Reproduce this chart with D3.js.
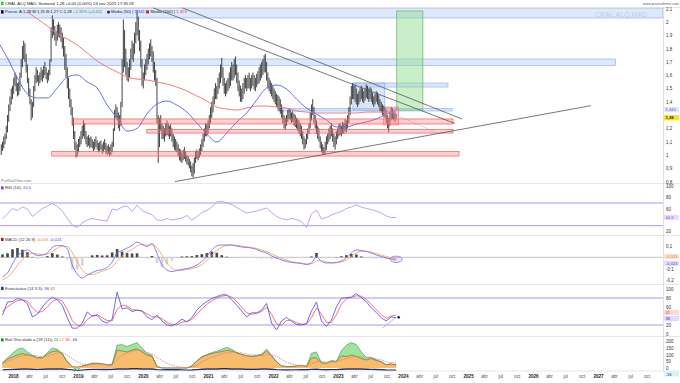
<!DOCTYPE html>
<html><head><meta charset="utf-8">
<script src="https://cdn.jsdelivr.net/npm/d3@7/dist/d3.min.js"></script>
<style>
html,body{margin:0;padding:0;background:#fff;overflow:hidden;}
svg{display:block;font-family:"Liberation Sans",Arial,sans-serif;}
</style></head><body>
<svg id="chart" width="680" height="383"></svg>
<script>
// ---------------- DATA ----------------
// weekly bars, last one = 24 nov 2023
const highs = [
1.08,1.10,1.14,1.16,1.22,1.30,1.38,1.44,
1.50,1.52,1.58,1.62,1.60,1.54,1.55,1.62,
1.72,1.82,1.86,1.84,1.76,1.68,1.58,1.50,
1.42,1.40,1.52,1.60,1.66,1.64,1.60,1.62,
1.66,1.64,1.67,1.70,1.66,1.62,1.64,1.72,
1.96,2.05,2.02,1.97,1.93,1.98,2.00,1.98,
1.96,1.92,1.88,1.82,1.76,1.66,1.58,1.50,
1.42,1.36,1.28,1.18,1.10,1.08,1.12,1.14,
1.18,1.22,1.26,1.24,1.18,1.14,1.15,1.13,
1.14,1.12,1.10,1.12,1.14,1.11,1.09,1.10,
1.11,1.08,1.10,1.12,1.09,1.07,1.08,1.06,
1.08,1.10,1.20,1.34,1.38,1.36,1.32,1.30,
1.40,1.72,2.02,1.94,1.80,1.70,1.66,1.72,
1.80,1.86,1.84,1.92,2.00,2.09,2.04,1.94,
1.86,1.72,1.62,1.68,1.72,1.76,1.80,1.84,
1.87,1.82,1.78,1.70,1.64,1.58,1.30,1.28,
1.30,1.24,1.22,1.20,1.24,1.26,1.24,1.22,
1.23,1.20,1.16,1.14,1.12,1.10,1.08,1.05,
1.04,1.02,1.04,1.06,1.03,1.00,0.99,0.97,
0.95,0.92,0.94,0.98,1.03,1.04,1.03,1.05,
1.08,1.12,1.16,1.20,1.24,1.23,1.26,1.30,
1.36,1.40,1.44,1.50,1.54,1.52,1.58,1.62,
1.68,1.73,1.66,1.58,1.54,1.56,1.58,1.62,
1.66,1.70,1.68,1.72,1.74,1.68,1.62,1.56,
1.52,1.50,1.54,1.58,1.60,1.58,1.60,1.62,
1.58,1.60,1.62,1.60,1.58,1.61,1.63,1.66,
1.68,1.70,1.72,1.75,1.76,1.70,1.62,1.58,
1.56,1.54,1.52,1.50,1.48,1.46,1.45,1.44,
1.42,1.38,1.34,1.30,1.28,1.30,1.34,1.35,
1.34,1.32,1.33,1.31,1.30,1.28,1.27,1.26,
1.24,1.22,1.18,1.14,1.12,1.16,1.20,1.24,
1.32,1.38,1.42,1.36,1.30,1.26,1.22,1.20,
1.14,1.10,1.08,1.06,1.10,1.14,1.16,1.20,
1.22,1.24,1.20,1.16,1.14,1.18,1.20,1.23,
1.24,1.22,1.25,1.24,1.27,1.26,1.30,1.36,
1.44,1.52,1.54,1.52,1.53,1.50,1.46,1.48,
1.50,1.52,1.50,1.48,1.50,1.53,1.52,1.50,
1.51,1.50,1.47,1.44,1.46,1.48,1.47,1.45,
1.42,1.40,1.38,1.37,1.36,1.34,1.30,1.28,
1.32,1.36,1.35,1.33,1.32,1.31];
const lows = [
1.00,1.03,1.05,1.08,1.12,1.17,1.25,1.33,
1.38,1.42,1.46,1.52,1.48,1.44,1.45,1.48,
1.58,1.66,1.72,1.70,1.62,1.54,1.44,1.38,
1.26,1.28,1.36,1.48,1.54,1.55,1.52,1.54,
1.56,1.55,1.58,1.60,1.57,1.54,1.56,1.60,
1.70,1.88,1.90,1.86,1.82,1.86,1.89,1.88,
1.85,1.80,1.74,1.64,1.58,1.50,1.42,1.36,
1.30,1.22,1.12,1.04,0.98,0.99,1.02,1.06,
1.08,1.12,1.14,1.12,1.08,1.06,1.07,1.05,
1.06,1.05,1.03,1.04,1.06,1.04,1.02,1.03,
1.04,1.01,1.02,1.04,1.01,1.00,1.01,0.99,
1.00,1.02,1.06,1.18,1.28,1.26,1.20,1.18,
1.22,1.36,1.62,1.66,1.60,1.56,1.55,1.58,
1.64,1.72,1.70,1.76,1.84,1.90,1.86,1.78,
1.66,1.52,1.50,1.56,1.60,1.64,1.68,1.72,
1.74,1.70,1.62,1.56,1.52,1.24,0.94,1.06,
1.18,1.12,1.12,1.10,1.14,1.15,1.14,1.12,
1.14,1.10,1.06,1.04,1.03,1.02,0.99,0.96,
0.95,0.94,0.96,0.97,0.95,0.93,0.92,0.90,
0.87,0.84,0.83,0.86,0.94,0.97,0.96,0.98,
1.00,1.03,1.06,1.10,1.14,1.14,1.16,1.20,
1.24,1.28,1.32,1.38,1.42,1.42,1.46,1.50,
1.54,1.58,1.52,1.46,1.44,1.46,1.48,1.50,
1.52,1.56,1.56,1.58,1.60,1.54,1.48,1.44,
1.40,1.40,1.42,1.46,1.50,1.48,1.50,1.50,
1.48,1.50,1.52,1.49,1.48,1.51,1.53,1.54,
1.56,1.58,1.60,1.62,1.62,1.56,1.50,1.48,
1.46,1.44,1.42,1.40,1.38,1.36,1.35,1.33,
1.31,1.28,1.24,1.20,1.19,1.22,1.25,1.27,
1.26,1.24,1.25,1.22,1.21,1.20,1.18,1.16,
1.14,1.12,1.08,1.04,1.05,1.08,1.12,1.16,
1.20,1.26,1.30,1.24,1.20,1.16,1.12,1.10,
1.05,1.02,1.01,1.00,1.01,1.04,1.08,1.10,
1.12,1.14,1.10,1.06,1.04,1.08,1.12,1.14,
1.15,1.14,1.16,1.16,1.18,1.17,1.20,1.24,
1.30,1.38,1.42,1.42,1.40,1.38,1.36,1.38,
1.40,1.42,1.40,1.39,1.41,1.43,1.42,1.40,
1.42,1.40,1.38,1.36,1.38,1.40,1.38,1.36,
1.33,1.32,1.30,1.29,1.28,1.24,1.20,1.17,
1.22,1.26,1.27,1.26,1.25,1.27];
const lastClose = 1.28;

// moving averages, sampled every 8 weeks (ending on last bar)
const ma50 = [1.857,1.729,1.579,1.459,1.429,1.429,1.504,1.586,1.602,1.549,1.504,1.376,1.278,1.180,1.200,1.310,1.383,1.406,1.375,1.323,1.240,1.158,1.098,1.165,1.248,1.316,1.414,1.504,1.526,1.496,1.421,1.353,1.308,1.263,1.211,1.211,1.233,1.248,1.271,1.306,1.341];
const ma200 = [null,null,null,2.075,2.023,1.970,1.910,1.872,1.827,1.767,1.707,1.662,1.624,1.586,1.571,1.564,1.549,1.534,1.511,1.481,1.444,1.406,1.361,1.346,1.338,1.353,1.368,1.368,1.361,1.353,1.331,1.323,1.316,1.316,1.316,1.316,1.316,1.323,1.323,1.323,1.323];

// indicators, sampled every 4 weeks (ending on last bar)
const rsi = [41.8,50.6,60.3,56.8,63,59.4,46.2,53.3,60.3,64.7,
 69.1,63.8,55.9,42.7,31.2,26.8,34.8,40,42.7,40.9,
 39.2,38.3,59.4,57.7,63,64.7,55,66.5,56.8,52.4,
 49.7,40,39.2,42.7,40,41.8,43.6,48,40,45.9,
 53.3,56.8,63,71.8,73,70,67.4,62.1,56.8,52.4,
 54.1,55.9,58.5,61.2,53.3,46.2,42.7,40,42.7,40.9,
 37.4,26.8,50.6,57.7,41.8,44.4,48.9,52.4,55,60.3,
 63,66.5,63,60.3,58.5,55.9,52.4,47.1,44.4,44.6];
const macd = [-0.174,-0.139,-0.059,0.012,0.047,0.065,0.038,0.016,0.02,0.038,
 0.087,0.104,0.104,0.073,-0.068,-0.148,-0.183,-0.157,-0.135,-0.117,
 -0.108,-0.09,-0.042,0.038,0.06,0.082,0.104,0.135,0.113,0.096,
 0.122,0.034,-0.068,-0.112,-0.126,-0.117,-0.108,-0.099,-0.09,-0.068,
 -0.037,0.007,0.065,0.1,0.109,0.109,0.109,0.1,0.091,0.087,
 0.082,0.069,0.051,0.038,0.012,-0.006,-0.024,-0.037,-0.046,-0.05,
 -0.055,-0.064,-0.05,0.003,-0.037,-0.05,-0.05,-0.046,-0.033,-0.006,
 0.038,0.065,0.06,0.051,0.038,0.02,0.007,-0.006,-0.015,-0.024];
const macdSignal = [-0.2,-0.175,-0.13,-0.07,-0.02,0.02,0.035,0.03,0.024,0.028,
 0.05,0.08,0.097,0.095,0.04,-0.04,-0.11,-0.15,-0.152,-0.138,
 -0.124,-0.108,-0.085,-0.035,0.01,0.045,0.07,0.1,0.115,0.108,
 0.11,0.085,0.02,-0.05,-0.095,-0.113,-0.115,-0.108,-0.1,-0.088,
 -0.065,-0.03,0.015,0.06,0.09,0.104,0.108,0.105,0.098,0.092,
 0.087,0.078,0.064,0.05,0.03,0.01,-0.01,-0.026,-0.038,-0.046,
 -0.052,-0.058,-0.057,-0.035,-0.028,-0.04,-0.047,-0.048,-0.042,-0.025,
 0.008,0.04,0.053,0.054,0.046,0.033,0.019,0.006,-0.006,-0.015];
const macdHist = [0.026,0.036,0.071,0.082,0.067,0.045,0.003,-0.014,-0.004,0.01,
 0.037,0.024,0.007,-0.022,-0.108,-0.108,-0.073,-0.007,0.017,0.021,
 0.016,0.018,0.043,0.073,0.05,0.037,0.034,0.035,-0.002,-0.012,
 0.012,-0.051,-0.088,-0.062,-0.031,-0.004,0.007,0.009,0.01,0.02,
 0.028,0.037,0.05,0.04,0.019,0.005,0.001,-0.005,-0.007,-0.005,
 -0.005,-0.009,-0.013,-0.012,-0.018,-0.016,-0.014,-0.011,-0.008,-0.004,
 -0.003,-0.006,0.007,0.038,-0.009,-0.01,-0.003,0.002,0.009,0.019,
 0.03,0.025,0.007,-0.003,-0.008,-0.013,-0.012,-0.012,-0.009,-0.009];
const stochK = [42,71,72,79,76,67,38,44,60,73,
 82,76,64,36,13,13,24,49,40,41,
 29,24,33,93,56,58,50,53,51,38,
 32,42,29,20,18,24,33,27,36,53,
 64,72,79,83,87,87,76,64,51,38,
 47,47,53,68,24,9,29,37,28,21,
 20,23,51,71,29,17,31,60,79,81,
 82,90,81,72,58,48,36,29,38,36];
const stochD = [50,60,68,74,76,73,58,48,50,60,
 72,78,73,55,30,18,18,32,40,43,
 36,30,29,55,64,62,54,53,51,45,
 38,38,34,26,21,21,26,28,32,44,
 56,66,74,80,84,86,82,72,60,47,
 44,46,50,60,44,22,20,30,31,25,
 22,22,36,58,44,26,25,43,66,78,
 81,85,84,77,66,54,43,35,40,42];
const flowGreen = [40,75,110,140,150,120,95,78,78,115,
 150,140,110,48,12,-25,16,25,36,36,
 31,23,30,170,175,160,175,190,150,110,
 95,12,0,0,0,0,0,0,16,55,
 85,100,115,125,140,155,140,115,102,92,
 88,95,105,140,95,46,16,11,11,16,
 20,12,110,120,40,36,55,50,130,170,
 190,175,120,80,80,62,48,24,32,24];
const flowOrange = [37,67,82,97,108,97,90,75,75,104,
 123,127,104,45,11,7,15,22,34,35,
 30,22,22,134,127,119,134,142,119,97,
 86,10,0,0,0,0,0,0,15,52,
 82,97,108,116,123,131,127,112,101,90,
 86,90,97,127,90,45,15,10,10,15,
 19,11,75,75,37,35,52,48,90,86,
 97,86,71,60,71,56,45,22,30,22];
const flowRed = [30,50,65,80,92,98,96,90,84,88,
 100,112,115,95,70,45,30,25,27,30,
 30,27,25,60,95,115,125,132,130,118,
 105,80,55,35,20,10,5,3,6,20,
 45,65,80,95,105,115,120,118,112,105,
 98,94,93,100,98,85,65,45,30,22,
 18,16,30,48,50,45,45,47,60,72,
 82,86,84,78,74,68,60,48,40,35];
const flowNavy = [-14,-12,-10,-9,-8,-8,-9,-10,-9,-8,
 -7,-7,-8,-10,-14,-20,-16,-12,-10,-10,
 -11,-11,-10,-8,-7,-7,-6,-6,-7,-8,
 -8,-12,-14,-13,-12,-13,-14,-16,-15,-12,
 -9,-8,-7,-7,-6,-6,-7,-8,-8,-9,
 -9,-9,-8,-7,-9,-12,-14,-15,-14,-14,
 -13,-13,-10,-9,-12,-13,-12,-12,-9,-8,
 -7,-7,-8,-9,-10,-11,-13,-15,-16,-16];

// drawn zones [start, end, low, high]
const blueZones = [["2017-10-01","2028-01-01",2.03,2.105],["2017-10-01","2027-04-10",1.673,1.722],["2023-03-26","2024-09-10",1.511,1.541],["2022-01-28","2024-10-03",1.331,1.350]];
const blueBox = ["2023-03-26","2023-09-21",1.338,1.541];
const redZones = [["2018-12-03","2024-10-08",1.233,1.271],["2020-01-23","2024-10-08",1.165,1.192],["2018-08-07","2024-11-11",0.992,1.026]];
const redBox = ["2023-09-15","2023-12-08",1.226,1.361];
const greenBox = ["2023-11-27","2024-04-22",1.338,2.083];
// trend lines [date1, price1, date2, price2]
const trendLines = [["2020-06-01",2.144,"2024-11-27",1.271],["2020-02-08",2.117,"2024-10-19",1.237],["2020-06-29",0.80,"2026-11-22",1.371]];
const projLine = ["2023-09-21",1.338,"2024-07-26",1.158];
const stochLine = ["2023-09-08",13,"2023-11-24",37];
const macdMark = ["2023-11-24",-0.018];

const priceTicks = [0.8,0.9,1,1.1,1.2,1.4,1.5,1.6,1.7,1.8,1.9,2,2.1];
const rsiTicks = [20,60,80,100];
const rsiLevels = [30,70];
const macdTicks = [-0.2,-0.1,0.1];
const stochTicks = [0,20,60,80,100];
const stochLevels = [20,80];
const flowTicks = [0,50,100,150,200];
const years = [2018,2019,2020,2021,2022,2023,2024,2025,2026,2027];
const monthTicks = [[3,"abr"],[6,"jul"],[9,"oct"]];

// ---------------- CHART ----------------
const svg = d3.select("#chart");
const RX = 663;
const fmt = d => String(d).replace(".", ",");
const pd = s => { const [a,b,c] = s.split("-").map(Number); return new Date(a,b-1,c); };
const x = d3.scaleTime().domain([new Date(2018,0,1), new Date(2027,0,1)]).range([13,598]);
const N = highs.length;
const weekDate = i => new Date(2023,10,24-(N-1-i)*7);
const stepDate = (j,n,step) => new Date(2023,10,24-(n-1-j)*7*step);

const yP = d3.scaleLinear().domain([0.8,2.1]).range([181.6,8.7]);
const yR = d3.scaleLinear().domain([30,70]).range([225.7,203]);
const yM = d3.scaleLinear().domain([-0.1,0.1]).range([268.6,246]);
const yS = d3.scaleLinear().domain([20,80]).range([325,298]);
const yF = d3.scaleLinear().domain([0,200]).range([368,341.2]);

const defs = svg.append("defs");
[["pP",7.6,183.5],["pR",184,235.5],["pM",236,284.5],["pS",285,336.5],["pF",337,371]].forEach(([id,t,b]) =>
  defs.append("clipPath").attr("id",id).append("rect").attr("x",0).attr("y",t).attr("width",RX).attr("height",b-t));

// ---- price panel ----
const gP = svg.append("g").attr("clip-path","url(#pP)");
function zone(g, z, fill, stroke, sw){
  const x0 = x(pd(z[0])), x1 = Math.min(x(pd(z[1])), RX);
  return g.append("rect").attr("x",x0).attr("y",yP(z[3])).attr("width",x1-x0).attr("height",yP(z[2])-yP(z[3]))
    .attr("fill",fill).attr("stroke",stroke).attr("stroke-width",sw);
}
blueZones.forEach(z => zone(gP, z, "rgba(170,200,245,0.40)", "rgba(120,160,235,0.75)", 0.7));
zone(gP, blueBox, "rgba(170,200,245,0.45)", "rgba(120,160,235,0.8)", 0.7);
zone(gP, greenBox, "rgba(150,220,150,0.50)", "#6cbf6c", 0.8);

gP.append("g").selectAll("line").data(highs).join("line")
  .attr("x1",(d,i)=>x(weekDate(i))).attr("x2",(d,i)=>x(weekDate(i)))
  .attr("y1",d=>yP(d)).attr("y2",(d,i)=>yP(lows[i]))
  .attr("stroke","#3a3a3a").attr("stroke-width",0.95);

const maLine = d3.line().defined(d=>d[1]!=null).x(d=>x(d[0])).y(d=>yP(d[1])).curve(d3.curveMonotoneX);
gP.append("path").attr("d",maLine(ma200.map((v,j)=>[stepDate(j,ma200.length,8),v])))
  .attr("fill","none").attr("stroke","#f07a7a").attr("stroke-width",1);
gP.append("path").attr("d",maLine(ma50.map((v,j)=>[stepDate(j,ma50.length,8),v])))
  .attr("fill","none").attr("stroke","#6570dc").attr("stroke-width",1);

redZones.forEach(z => zone(gP, z, "rgba(255,120,120,0.35)", "#f55", 0.7));
zone(gP, redBox, "rgba(255,120,120,0.35)", "rgba(240,90,90,0.8)", 0.6);

trendLines.forEach(t => gP.append("line").attr("x1",x(pd(t[0]))).attr("y1",yP(t[1])).attr("x2",x(pd(t[2]))).attr("y2",yP(t[3]))
  .attr("stroke","#555").attr("stroke-width",0.8));
gP.append("line").attr("x1",x(pd(projLine[0]))).attr("y1",yP(projLine[1])).attr("x2",x(pd(projLine[2]))).attr("y2",yP(projLine[3]))
  .attr("stroke","rgba(120,160,235,0.6)").attr("stroke-width",0.7);

svg.append("text").attr("x",595).attr("y",17).attr("font-size",7).attr("fill","rgba(110,140,200,0.35)").text("CRAL.ALQ.MAD");
svg.append("text").attr("x",1).attr("y",181.5).attr("font-size",3.8).attr("fill","#777").text("ProRealTime.com");

// ---- RSI panel ----
const gR = svg.append("g").attr("clip-path","url(#pR)");
rsiLevels.forEach(v => gR.append("line").attr("x1",0).attr("x2",RX).attr("y1",yR(v)).attr("y2",yR(v)).attr("stroke","#a49bf0").attr("stroke-width",1));
const indDate = j => stepDate(j,80,4);
gR.append("path").attr("d",d3.line().x((d,j)=>x(indDate(j))).y(d=>yR(d))(rsi))
  .attr("fill","none").attr("stroke","#b988ea").attr("stroke-width",0.8);

// ---- MACD panel ----
const gM = svg.append("g").attr("clip-path","url(#pM)");
gM.append("line").attr("x1",0).attr("x2",RX).attr("y1",yM(0)).attr("y2",yM(0)).attr("stroke","#999").attr("stroke-width",0.6);
gM.append("g").selectAll("rect").data(macdHist).join("rect")
  .attr("x",(d,j)=>x(indDate(j))-1.3).attr("width",2.6)
  .attr("y",d=>Math.min(yM(d),yM(0))).attr("height",d=>Math.abs(yM(d)-yM(0)))
  .attr("fill",d=>d>=0?"#4a4a4a":"#d6d6d6");
const lM = d3.line().x((d,j)=>x(indDate(j))).y(d=>yM(d)).curve(d3.curveMonotoneX);
gM.append("path").attr("d",lM(macdSignal)).attr("fill","none").attr("stroke","#f5a862").attr("stroke-width",0.9);
gM.append("path").attr("d",lM(macd)).attr("fill","none").attr("stroke","#7474f0").attr("stroke-width",0.9);
gM.append("ellipse").attr("cx",x(pd(macdMark[0]))).attr("cy",yM(macdMark[1])).attr("rx",6).attr("ry",3.2)
  .attr("fill","rgba(180,140,240,0.25)").attr("stroke","#a070e0").attr("stroke-width",0.8);

// ---- Stochastic panel ----
const gS = svg.append("g").attr("clip-path","url(#pS)");
stochLevels.forEach(v => gS.append("line").attr("x1",0).attr("x2",RX).attr("y1",yS(v)).attr("y2",yS(v)).attr("stroke","#a49bf0").attr("stroke-width",1));
const lS = d3.line().x((d,j)=>x(indDate(j))).y(d=>yS(d));
gS.append("path").attr("d",lS(stochD)).attr("fill","none").attr("stroke","#f06565").attr("stroke-width",0.9);
gS.append("path").attr("d",lS(stochK)).attr("fill","none").attr("stroke","#5a5ae8").attr("stroke-width",0.9);
gS.append("line").attr("x1",x(pd(stochLine[0]))).attr("y1",yS(stochLine[1])).attr("x2",x(pd(stochLine[2]))).attr("y2",yS(stochLine[3]))
  .attr("stroke","#8a8ae8").attr("stroke-width",0.6);
gS.append("circle").attr("cx",x(pd(stochLine[2]))+2.5).attr("cy",yS(stochLine[3])).attr("r",1.3).attr("fill","#1a1a9a");

// ---- Flow panel ----
const gF = svg.append("g").attr("clip-path","url(#pF)");
const aF = vals => d3.area().x((d,j)=>x(indDate(j))).y0(yF(0)).y1(d=>yF(d))(vals);
const lF = d3.line().x((d,j)=>x(indDate(j))).y(d=>yF(d));
gF.append("path").attr("d",aF(flowGreen)).attr("fill","#9fe39f");
gF.append("path").attr("d",lF(flowGreen)).attr("fill","none").attr("stroke","#3e9a3e").attr("stroke-width",0.6);
gF.append("path").attr("d",aF(flowOrange)).attr("fill","#f7bc6c");
gF.append("path").attr("d",lF(flowOrange)).attr("fill","none").attr("stroke","#7a5a22").attr("stroke-width",0.6);
gF.append("path").attr("d",lF(flowRed)).attr("fill","none").attr("stroke","#f07070").attr("stroke-width",0.8).attr("stroke-dasharray","1.5,1");
gF.append("path").attr("d",lF(flowNavy)).attr("fill","none").attr("stroke","#1c2a80").attr("stroke-width",1.4);

// ---- frame / separators ----
[7.5,183.5,235.5,284.5,336.5,371].forEach(y => svg.append("line").attr("x1",0).attr("x2",680).attr("y1",y).attr("y2",y).attr("stroke","#d6d6d6").attr("stroke-width",0.6));
svg.append("line").attr("x1",RX+0.5).attr("x2",RX+0.5).attr("y1",7.5).attr("y2",371).attr("stroke","#ccc").attr("stroke-width",0.6);

// ---- right axes ----
function rightAxis(scale, ticks){
  const a = svg.append("g").attr("transform",`translate(${RX},0)`)
    .call(d3.axisRight(scale).tickValues(ticks).tickFormat(fmt).tickSize(0).tickPadding(3));
  a.select(".domain").remove();
  a.selectAll("text").attr("font-size",4.5).attr("fill","#333").attr("font-family","Liberation Sans, Arial");
}
rightAxis(yP, priceTicks);
rightAxis(yR, rsiTicks);
rightAxis(yM, macdTicks);
rightAxis(yS, stochTicks);
rightAxis(yF, flowTicks);

function valBox(y, text, fill, color, bold){
  svg.append("rect").attr("x",RX+1).attr("y",y-2.6).attr("width",15).attr("height",5.2).attr("fill",fill);
  svg.append("text").attr("x",RX+2.5).attr("y",y+1.5).attr("font-size",4.2).attr("fill",color)
    .attr("font-weight",bold?"bold":"normal").text(text);
}
valBox(yP(ma50[ma50.length-1]), fmt(ma50[ma50.length-1]), "#e4e6ff", "#3a48d0", false);
valBox(yP(lastClose), fmt(lastClose.toFixed(2)), "#ffe21a", "#222", true);
valBox(yR(rsi[79]), fmt(rsi[79]), "#eadcff", "#8a3ee0", false);
valBox(yM(macdSignal[79])-2.5, fmt(macdSignal[79]), "#fde3cf", "#e0782a", false);
valBox(yM(macd[79])+3.2, fmt(macd[79]), "#e0e0ff", "#4a4ae0", false);
valBox(yS(stochD[79])-2.5, fmt(stochD[79]), "#ffd9d9", "#e03a3a", false);
valBox(yS(stochK[79])+0.8, fmt(stochK[79]), "#dcdcff", "#2a2ad0", false);
valBox(374, fmt(flowNavy[79]), "#d4f4fa", "#1c2a80", false);

// ---- x axis ----
const xTicks = [];
years.forEach(yv => { xTicks.push({d:new Date(yv,0,1), t:String(yv), y:true});
  monthTicks.forEach(([m,l]) => xTicks.push({d:new Date(yv,m,1), t:l, y:false})); });
const ax = svg.append("g").attr("transform","translate(0,373.5)")
  .call(d3.axisBottom(x).tickValues(xTicks.map(t=>t.d)).tickFormat((d,i)=>xTicks[i].t).tickSize(0).tickPadding(1.5));
ax.select(".domain").remove();
ax.selectAll("text").attr("font-size",4.6).attr("font-family","Liberation Sans, Arial")
  .attr("font-weight",(d,i)=>xTicks[i].y?"bold":"normal").attr("fill",(d,i)=>xTicks[i].y?"#222":"#555");

// ---- header / legends ----
svg.append("rect").attr("x",1).attr("y",1.6).attr("width",2.6).attr("height",3.6).attr("fill","#3c3");
svg.append("text").attr("x",5).attr("y",5.2).attr("font-size",4.2).attr("fill","#222")
  .text("CRAL.ALQ.MAD, Semanal 1,28 +0,00 (0,00%) 24 nov 2023 17:35:28");
svg.append("text").attr("x",679).attr("y",4.6).attr("font-size",3.8).attr("fill","#666").attr("text-anchor","end").text("www.prorealtime.com");

function legend(y, items){
  const t = svg.append("text").attr("x",5).attr("y",y).attr("font-size",4.2);
  items.forEach(([s,c]) => t.append("tspan").attr("fill",c).text(s));
  return t;
}
svg.append("rect").attr("x",1).attr("y",10.2).attr("width",2.6).attr("height",3.4).attr("fill","#111");
legend(13.4, [["Precio: A:1,28  M:1,31  B:1,27  C:1,28 ","#222"],["+1,31% (+0,02)","#2a9a2a"]]);
svg.append("circle").attr("cx",108.5).attr("cy",12).attr("r",1.6).attr("fill","#1a2a9a");
svg.append("text").attr("x",111).attr("y",13.4).attr("font-size",4.2).attr("fill","#222")
  .call(t=>{t.append("tspan").text("Media (50) | "); t.append("tspan").attr("fill","#3a48d0").text(fmt(ma50[ma50.length-1]));});
svg.append("rect").attr("x",146).attr("y",10.4).attr("width",3).attr("height",3).attr("fill","#e02020");
svg.append("text").attr("x",150.5).attr("y",13.4).attr("font-size",4.2).attr("fill","#222")
  .call(t=>{t.append("tspan").text("Media (200) | "); t.append("tspan").attr("fill","#e03030").text(fmt(ma200[ma200.length-1]));});

svg.append("rect").attr("x",1).attr("y",186.3).attr("width",2.6).attr("height",3.2).attr("fill","#8a3ee0");
legend(189.3, [["RSI (14): ","#333"],[fmt(rsi[79]),"#8a3ee0"]]);
svg.append("rect").attr("x",1).attr("y",237.8).attr("width",2.6).attr("height",3.2).attr("fill","#a02020");
legend(240.8, [["MACD (12 26 9)   ","#333"],[fmt(macdSignal[79])+"  ","#e0782a"],[fmt(macd[79]),"#4a4ae0"]]);
svg.append("rect").attr("x",1).attr("y",286.8).attr("width",2.6).attr("height",3.2).attr("fill","#2a2ad0");
legend(289.8, [["Estocástico (14 3 5): ","#333"],[fmt(stochK[79])+"  ","#2a2ad0"],[fmt(stochD[79]),"#e03a3a"]]);
svg.append("rect").attr("x",1).attr("y",338.3).attr("width",2.6).attr("height",3.2).attr("fill","#2a8a2a");
legend(341.3, [["Rafi Vinculado a (18 (11))  ","#333"],[fmt(flowGreen[79])+"  ","#2a9a2a"],[fmt(flowOrange[79])+"  ","#e0902a"],[fmt(flowRed[79])+"  ","#e04040"],[fmt(flowNavy[79]),"#1c2a80"]]);
</script>
</body></html>
